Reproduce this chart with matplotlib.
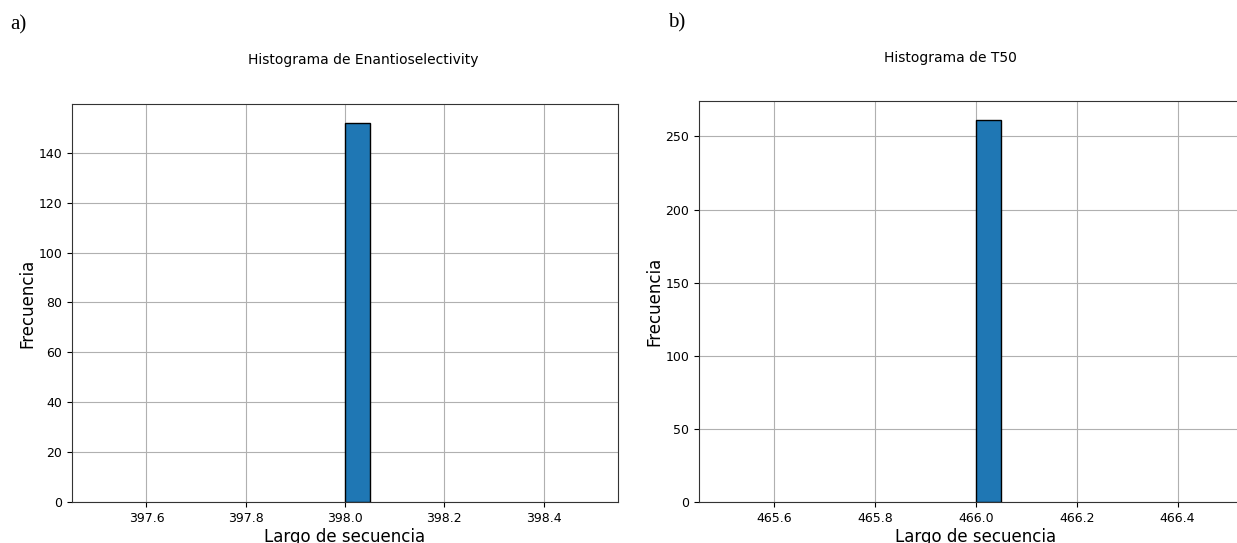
import numpy as np
import matplotlib.pyplot as plt

# sequence lengths: every sequence in each dataset has the same length
enantio_len = 398
enantio_count = 152
t50_len = 466
t50_count = 261

panels = [
    ("a)", "Histograma de Enantioselectivity", enantio_len, enantio_count,
     [397.6, 397.8, 398.0, 398.2, 398.4], [0, 20, 40, 60, 80, 100, 120, 140]),
    ("b)", "Histograma de T50", t50_len, t50_count,
     [465.6, 465.8, 466.0, 466.2, 466.4], [0, 50, 100, 150, 200, 250]),
]

fig = plt.figure(figsize=(12.37, 5.43), dpi=100)
# second panel runs a little past the right edge of the page
rects = [[0.0582, 0.0755, 0.4414, 0.733], [0.565, 0.0755, 0.448, 0.738]]
letter_pos = [(0.008, 0.972), (0.540, 0.975)]
title_xy = [(0.2935, 0.882), (0.768, 0.886)]

for (letter, title, length, count, xt, yt), rect, lp, txy in zip(panels, rects, letter_pos, title_xy):
    ax = fig.add_axes(rect)
    values = np.full(count, length)
    # single-valued data -> range is value +/- 0.5, 20 bins like pandas .hist()
    n, edges, patches = ax.hist(values, bins=20, range=(length - 0.5, length + 0.5),
                                color="#1f77b4", edgecolor="black", linewidth=1.0, zorder=3)
    for h, p in zip(n, patches):
        if h == 0:
            p.set_visible(False)
    ax.grid(True, color="#b0b0b0", linewidth=0.8, zorder=0)
    ax.set_axisbelow(True)
    ax.set_xlim(length - 0.55, length + 0.55)
    ax.set_xticks(xt)
    ax.set_xticklabels([f"{v:.1f}" for v in xt])
    ax.set_yticks(yt)
    ax.set_ylim(0, count * 1.05)
    ax.tick_params(labelsize=9)
    for s in ax.spines.values():
        s.set_color("#333333")
    ax.set_xlabel("Largo de secuencia", fontsize=12, labelpad=2)
    ax.set_ylabel("Frecuencia", fontsize=12, labelpad=1.5)
    fig.text(txy[0], txy[1], title, ha="center", va="baseline", fontsize=10)
    fig.text(lp[0], lp[1], letter, fontsize=15, family="Liberation Serif", va="top")

fig.savefig("out.png", dpi=100)
